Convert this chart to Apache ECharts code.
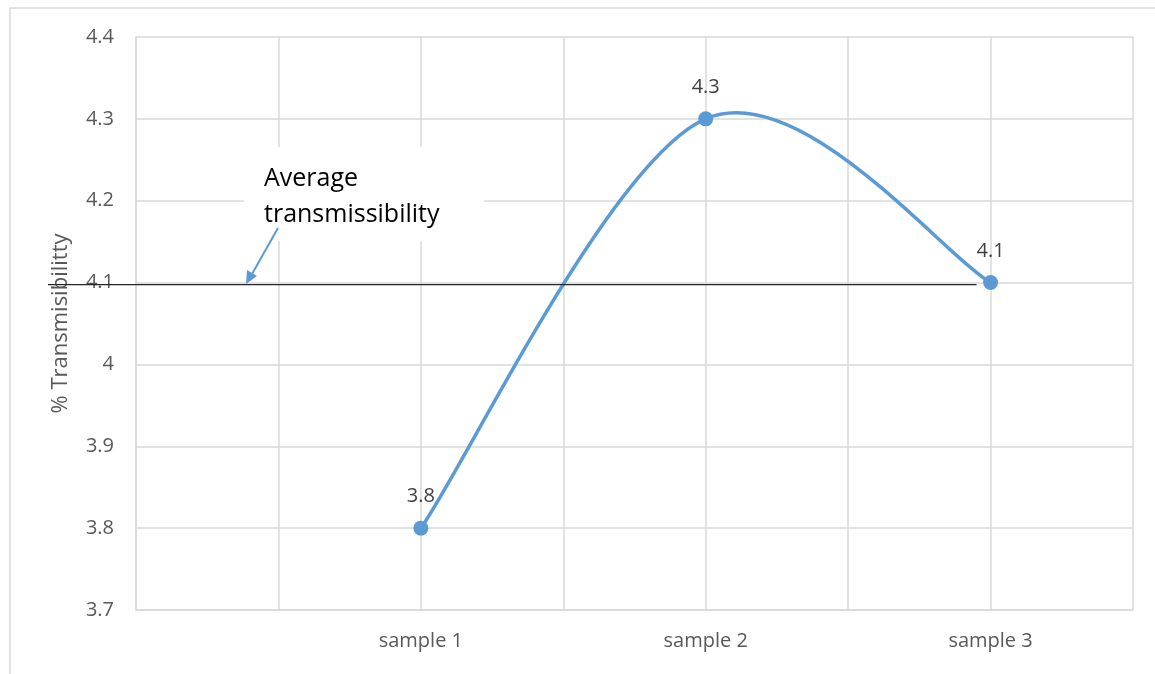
<!DOCTYPE html>
<html>
<head>
<meta charset="utf-8">
<script src="https://cdn.jsdelivr.net/npm/echarts@6/dist/echarts.min.js"></script>
<style>
html,body{margin:0;padding:0;background:#fff;}
#c{width:1155px;height:674px;}
</style>
</head>
<body>
<div id="c"></div>
<script>
// Data
var categories = ['sample 1', 'sample 2', 'sample 3'];
var categoryPositions = [2, 4, 6];
var transmissibility = [3.8, 4.3, 4.1];
var averageValue = 4.1;
var yTicks = [3.7, 3.8, 3.9, 4.0, 4.1, 4.2, 4.3, 4.4];
var yAxisTitle = '% Transmisibilitty';
var annotationLines = ['Average', 'transmissibility'];

var FONT = '"Open Sans"';
var seriesData = categoryPositions.map(function (p, i) { return [p, transmissibility[i]]; });

// Excel-style smoothed curve (Catmull-Rom -> cubic Bezier) computed in pixel space from data coords
function smoothPath(api) {
  var pts = seriesData.map(function (d) { return api.coord(d); });
  var n = pts.length;
  var d = 'M' + pts[0][0] + ' ' + pts[0][1];
  for (var i = 0; i < n - 1; i++) {
    var p0 = pts[Math.max(i - 1, 0)], p1 = pts[i], p2 = pts[i + 1], p3 = pts[Math.min(i + 2, n - 1)];
    var c1x = p1[0] + (p2[0] - p0[0]) / 6, c1y = p1[1] + (p2[1] - p0[1]) / 6;
    var c2x = p2[0] - (p3[0] - p1[0]) / 6, c2y = p2[1] - (p3[1] - p1[1]) / 6;
    d += ' C' + c1x + ' ' + c1y + ' ' + c2x + ' ' + c2y + ' ' + p2[0] + ' ' + p2[1];
  }
  return d;
}

var chart = echarts.init(document.getElementById('c'), null, {renderer: 'canvas'});
var option = {
  animation: false,
  backgroundColor: '#fff',
  grid: {left: 136, right: 22, top: 37, bottom: 64, containLabel: false},
  xAxis: {
    type: 'value', min: 0, max: 7, interval: 1,
    axisLine: {show: true, lineStyle: {color: '#d9d9d9', width: 1.5}},
    axisTick: {show: false},
    splitLine: {show: true, lineStyle: {color: '#d9d9d9', width: 1.5}},
    axisLabel: {
      color: '#595959', fontFamily: FONT, fontSize: 20, margin: 21,
      formatter: function (v) {
        var i = categoryPositions.indexOf(v);
        return i >= 0 ? categories[i] : '';
      }
    }
  },
  yAxis: {
    type: 'value', min: yTicks[0], max: yTicks[yTicks.length - 1], interval: 0.1,
    name: yAxisTitle, nameLocation: 'middle', nameGap: 64,
    nameTextStyle: {color: '#595959', fontFamily: FONT, fontSize: 22},
    axisLine: {show: true, lineStyle: {color: '#d9d9d9', width: 1.5}},
    axisTick: {show: false},
    splitLine: {show: true, lineStyle: {color: '#d9d9d9', width: 1.5}},
    axisLabel: {
      color: '#595959', fontFamily: FONT, fontSize: 20, margin: 22,
      formatter: function (v) { return String(Math.round(v * 10) / 10); }
    }
  },
  series: [{
    type: 'custom',
    data: seriesData,
    renderItem: function (params, api) {
      if (params.dataIndex !== 0) return null;
      return {
        type: 'path',
        shape: {pathData: smoothPath(api)},
        style: {fill: 'none', stroke: '#5b9bd5', lineWidth: 3.5, lineCap: 'round', lineJoin: 'round'}
      };
    },
    z: 4, silent: true
  }, {
    type: 'scatter',
    data: seriesData,
    symbol: 'circle', symbolSize: 15,
    itemStyle: {color: '#5b9bd5', opacity: 1},
    label: {
      show: true, position: 'top', distance: 14,
      color: '#404040', opacity: 1, fontFamily: FONT, fontSize: 20,
      formatter: function (p) { return p.value[1]; }
    },
    z: 5
  }]
};
chart.setOption(option);

// annotation: average line, text box, arrow
var yAvg = chart.convertToPixel({yAxisIndex: 0}, averageValue) + 2;
var xEnd = chart.convertToPixel({xAxisIndex: 0}, categoryPositions[2]) - 14;
chart.setOption({
  graphic: [
    {type: 'rect', shape: {x: 10, y: 8, width: 1200, height: 700}, style: {fill: 'none', stroke: '#d9d9d9', lineWidth: 1.5}, z: 0, silent: true},
    {type: 'line', shape: {x1: 48, y1: yAvg, x2: xEnd, y2: yAvg}, style: {stroke: '#262626', lineWidth: 1.3}, z: 10},
    {type: 'rect', shape: {x: 244, y: 147, width: 240, height: 94}, style: {fill: '#ffffff'}, z: 11},
    {type: 'text', x: 264, y: 161, style: {text: annotationLines.join('\n'), fill: '#000', font: '25px ' + FONT, lineHeight: 36}, z: 12},
    {type: 'line', shape: {x1: 278, y1: 228, x2: 252, y2: 274}, style: {stroke: '#5b9bd5', lineWidth: 2}, z: 12},
    {type: 'polygon', shape: {points: [[246, 284], [247, 270], [257, 276]]}, style: {fill: '#5b9bd5'}, z: 12}
  ]
});
</script>
</body>
</html>
